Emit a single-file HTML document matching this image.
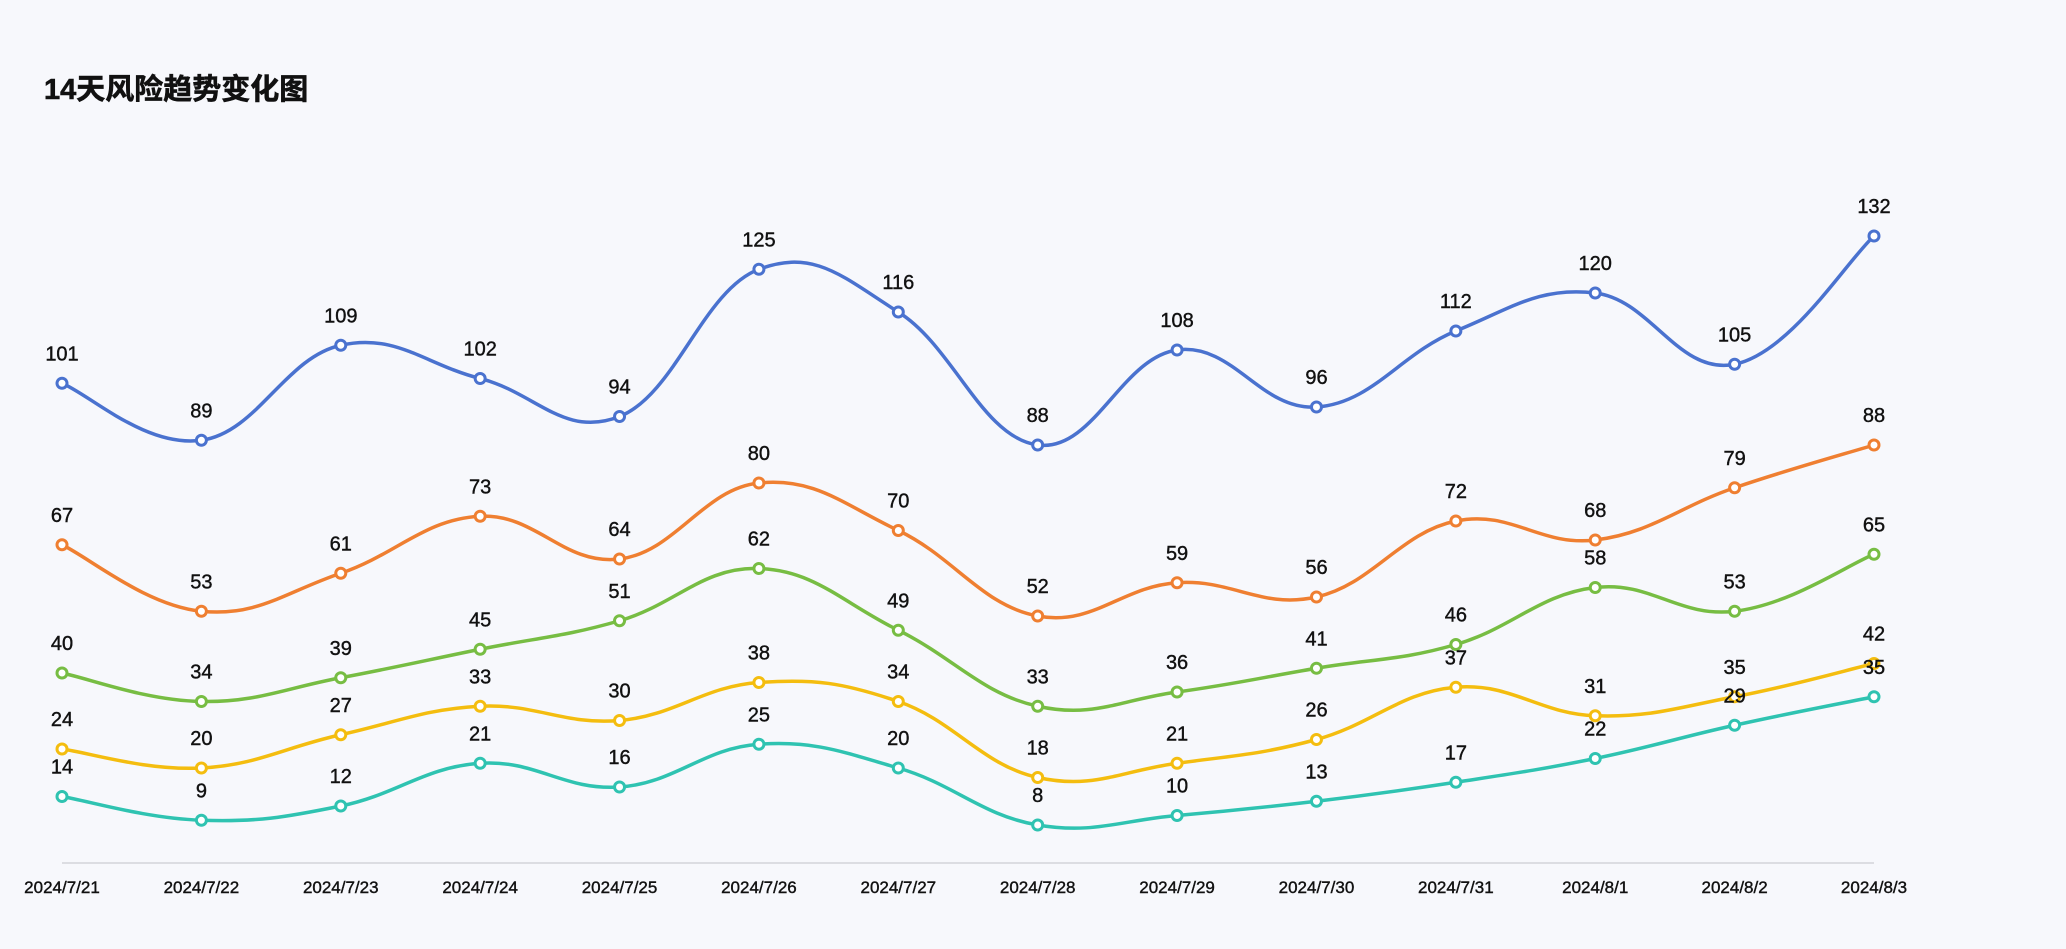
<!DOCTYPE html>
<html><head><meta charset="utf-8">
<style>
html,body{margin:0;padding:0;background:#f7f8fc;}
svg{display:block;font-family:"Liberation Sans","Noto Sans CJK SC",sans-serif;}
</style></head>
<body>
<svg id="chart" width="2066" height="949" viewBox="0 0 2066 949">
<rect width="2066" height="949" fill="#f7f8fc"/>
<text x="44" y="99" font-size="29" font-weight="bold" fill="#111" stroke="#111" stroke-width="0.6">14天风险趋势变化图</text>
<line x1="62" y1="863" x2="1874" y2="863" stroke="#dcdde2" stroke-width="2"/>
<g id="xlabels"></g>
<g id="series"></g>
</svg>
<script>
const categories = ["2024/7/21","2024/7/22","2024/7/23","2024/7/24","2024/7/25","2024/7/26","2024/7/27","2024/7/28","2024/7/29","2024/7/30","2024/7/31","2024/8/1","2024/8/2","2024/8/3"];
const blueValues = [101,89,109,102,94,125,116,88,108,96,112,120,105,132];
const orangeValues = [67,53,61,73,64,80,70,52,59,56,72,68,79,88];
const greenValues = [40,34,39,45,51,62,49,33,36,41,46,58,53,65];
const yellowValues = [24,20,27,33,30,38,34,18,21,26,37,31,35,42];
const tealValues = [14,9,12,21,16,25,20,8,10,13,17,22,29,35];

const NS = "http://www.w3.org/2000/svg";
const x0 = 62, x1 = 1874, yBase = 863, pxPerUnit = 4.75;
function xScale(i){ return x0 + i * (x1 - x0) / (categories.length - 1); }
function yScale(v){ return yBase - v * pxPerUnit; }

const xl = document.getElementById("xlabels");
categories.forEach((c,i)=>{
  const t = document.createElementNS(NS,"text");
  t.setAttribute("x", xScale(i)); t.setAttribute("y", 893);
  t.setAttribute("text-anchor","middle"); t.setAttribute("font-size","17");
  t.setAttribute("fill","#111"); t.setAttribute("stroke","#111"); t.setAttribute("stroke-width","0.4");
  
  
  t.textContent = c; xl.appendChild(t);
});

function smoothPath(pts){
  let d = "M" + pts[0][0] + "," + pts[0][1];
  const k = 0.2;
  for(let i=0;i<pts.length-1;i++){
    const p0 = pts[i-1]||pts[i], p1 = pts[i], p2 = pts[i+1], p3 = pts[i+2]||p2;
    const c1x = p1[0] + (p2[0]-p0[0])*k, c1y = p1[1] + (p2[1]-p0[1])*k;
    const c2x = p2[0] - (p3[0]-p1[0])*k, c2y = p2[1] - (p3[1]-p1[1])*k;
    d += " C" + c1x + "," + c1y + " " + c2x + "," + c2y + " " + p2[0] + "," + p2[1];
  }
  return d;
}

const seriesG = document.getElementById("series");
function drawSeries(vals, color, name){
  const g = document.createElementNS(NS,"g");
  
  
  const pts = vals.map((v,i)=>[xScale(i), yScale(v)]);
  const p = document.createElementNS(NS,"path");
  p.setAttribute("d", smoothPath(pts));
  p.setAttribute("fill","none"); p.setAttribute("stroke",color); p.setAttribute("stroke-width","3.5");
  
  
  g.appendChild(p);
  pts.forEach((pt,i)=>{
    const c = document.createElementNS(NS,"circle");
    c.setAttribute("cx",pt[0]); c.setAttribute("cy",pt[1]); c.setAttribute("r","5");
    c.setAttribute("fill","#fff"); c.setAttribute("stroke",color); c.setAttribute("stroke-width","3");
    
    
    g.appendChild(c);
    const t = document.createElementNS(NS,"text");
    t.setAttribute("x",pt[0]); t.setAttribute("y",pt[1]-23);
    t.setAttribute("text-anchor","middle"); t.setAttribute("font-size","20");
    t.setAttribute("fill","#111"); t.setAttribute("stroke","#111"); t.setAttribute("stroke-width","0.4");
    
    
    t.textContent = vals[i];
    g.appendChild(t);
  });
  seriesG.appendChild(g);
}
drawSeries(blueValues,"#4a72cf","blue");
drawSeries(orangeValues,"#ef7f31","orange");
drawSeries(greenValues,"#77bd43","green");
drawSeries(yellowValues,"#f4bd0f","yellow");
drawSeries(tealValues,"#2fc3b1","teal");
</script>
</body></html>
